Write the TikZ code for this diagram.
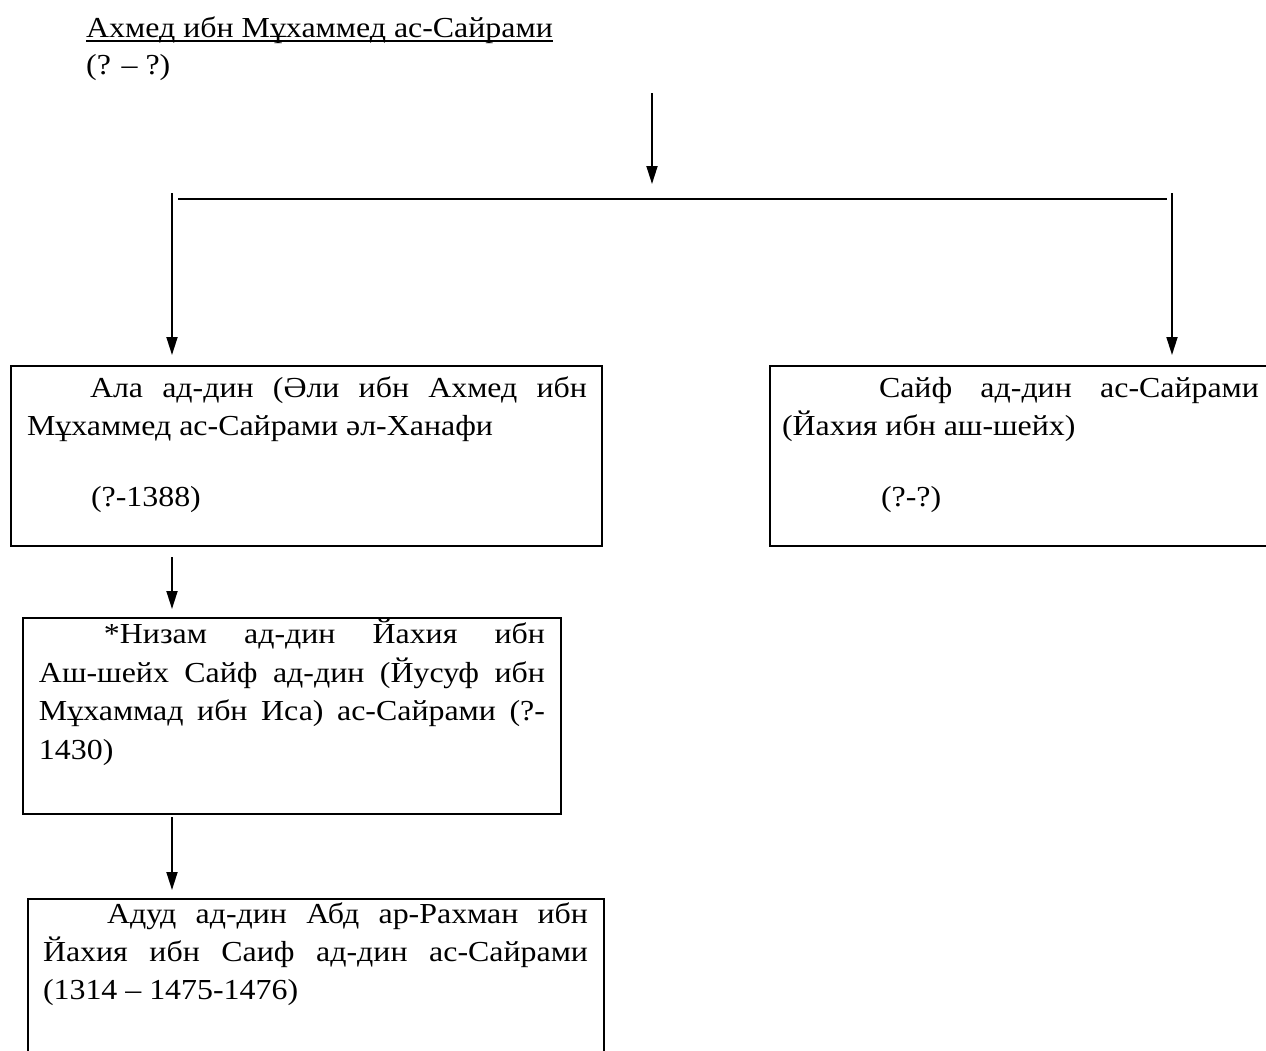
\documentclass[tikz,border=0pt]{standalone}
\usepackage{fontspec}
\setmainfont{Liberation Serif}[FakeStretch=1.1]
\usetikzlibrary{arrows.meta}
\newcommand\wul[1]{\setbox0=\hbox{#1}\hbox{\rlap{\rule[-4.8pt]{\wd0}{2pt}}\box0}}
\newcommand\brow[2]{\kern#1\hbox{\smash{#2}}}
\tikzset{
  txt/.style={font=\fontsize{29pt}{37pt}\selectfont, inner sep=0pt},
  famnode/.style={draw, line width=2pt, inner sep=0pt, anchor=north west, txt},
  arr/.style={line width=1.8pt, -{Triangle[length=18pt,width=11pt]}},
  bar/.style={line width=2.6pt}
}
\begin{document}
\begin{tikzpicture}[x=1pt,y=-1pt]
\useasboundingbox (0,0) rectangle (1266,1050);
% root
\node[txt, anchor=base west] (root) at (86,37) {\wul{Ахмед ибн Мұхаммед ас-Сайрами}};
\node[txt, anchor=base west] (rootd) at (86,74) {(? – ?)};
% connector end points
\coordinate (a0) at (652,93);  \coordinate (a1) at (652,184);
\coordinate (h1) at (178,199); \coordinate (h2) at (1167,199);
\coordinate (l0) at (172,193); \coordinate (l1) at (172,355);
\coordinate (r0) at (1172,193); \coordinate (r1) at (1172,355);
\coordinate (m0) at (172,557); \coordinate (m1) at (172,609);
\coordinate (n0) at (172,817); \coordinate (n1) at (172,890);
% boxes
\node[famnode] (ala) at (10,365) {\vbox to 180pt{\offinterlineskip
  \brow{31pt}{\hbox to 576pt{\hskip79pt Ала\hfill ад-дин\hfill (Әли\hfill ибн\hfill Ахмед\hfill ибн}}
  \brow{38pt}{\hbox to 576pt{\hskip16pt Мұхаммед ас-Сайрами әл-Ханафи\hfil}}
  \brow{71pt}{\hbox to 576pt{\hskip80pt (?-1388)\hfil}}
  \vfill\hbox to 591pt{}}};
\node[famnode] (saif) at (769,365) {\vbox to 180pt{\offinterlineskip
  \brow{31pt}{\hbox to 489pt{\hskip109pt Сайф\hfill ад-дин\hfill ас-Сайрами}}
  \brow{38pt}{\hbox to 489pt{\hskip12pt (Йахия ибн аш-шейх)\hfil}}
  \brow{71pt}{\hbox to 489pt{\hskip111pt (?-?)\hfil}}
  \vfill\hbox to 499pt{}}};
\node[famnode] (nizam) at (22,617) {\vbox to 196pt{\offinterlineskip
  \brow{25pt}{\hbox to 522pt{\hskip81pt *Низам\hfill ад-дин\hfill Йахия\hfill ибн}}
  \brow{39pt}{\hbox to 522pt{\hskip16pt Аш-шейх\hfill Сайф\hfill ад-дин\hfill (Йусуф\hfill ибн}}
  \brow{38pt}{\hbox to 522pt{\hskip16pt Мұхаммад\hfill ибн\hfill Иса)\hfill ас-Сайрами\hfill (?-}}
  \brow{39pt}{\hbox to 522pt{\hskip16pt 1430)\hfil}}
  \vfill\hbox to 538pt{}}};
\node[famnode] (adud) at (27,898) {\vbox to 162pt{\offinterlineskip
  \brow{24pt}{\hbox to 560pt{\hskip79pt Адуд\hfill ад-дин\hfill Абд\hfill ар-Рахман\hfill ибн}}
  \brow{38pt}{\hbox to 560pt{\hskip15pt Йахия\hfill ибн\hfill Саиф\hfill ад-дин\hfill ас-Сайрами}}
  \brow{38pt}{\hbox to 560pt{\hskip15pt (1314 – 1475-1476)\hfil}}
  \vfill\hbox to 576pt{}}};
% connectors
\draw[arr] (a0) -- (a1);
\draw[bar] (h1) -- (h2);
\draw[arr] (l0) -- (l1);
\draw[arr] (r0) -- (r1);
\draw[arr] (m0) -- (m1);
\draw[arr] (n0) -- (n1);
\end{tikzpicture}
\end{document}
